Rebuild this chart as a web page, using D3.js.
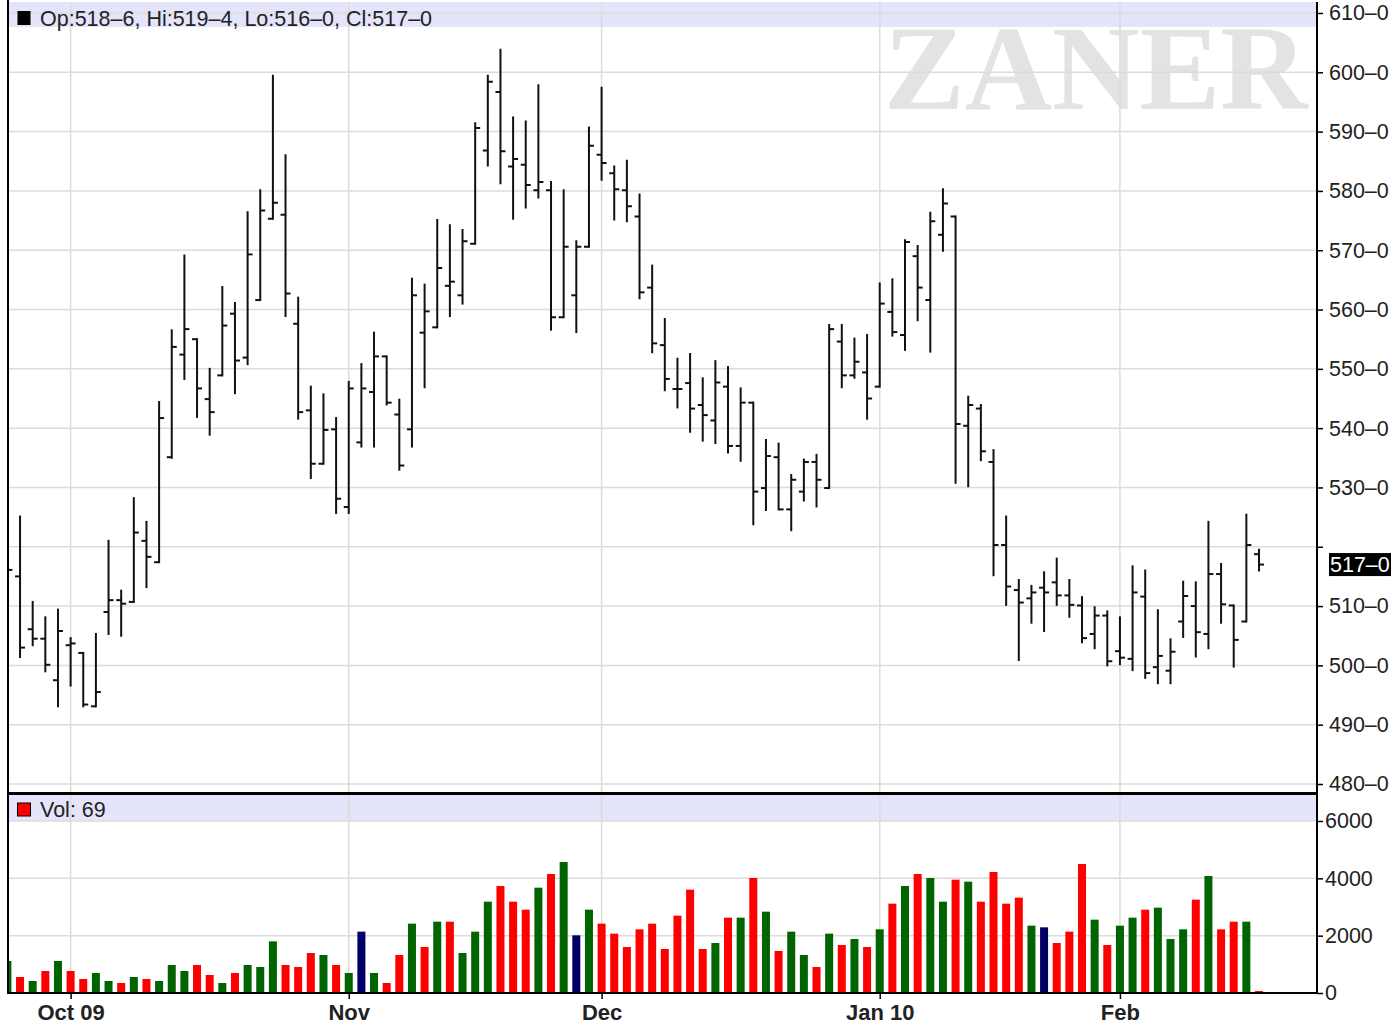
<!DOCTYPE html>
<html><head><meta charset="utf-8">
<script src="https://cdn.jsdelivr.net/npm/d3@7"></script>
<style>html,body{margin:0;padding:0;background:#fff;} svg{display:block;}</style>
</head><body><svg id="c" width="1394" height="1026"></svg>
<script>
// ---------------- DATA ----------------
const dates = [
"2009-09-24","2009-09-25","2009-09-28","2009-09-29","2009-09-30",
"2009-10-01","2009-10-02","2009-10-05","2009-10-06","2009-10-07","2009-10-08","2009-10-09",
"2009-10-12","2009-10-13","2009-10-14","2009-10-15","2009-10-16","2009-10-19","2009-10-20",
"2009-10-21","2009-10-22","2009-10-23","2009-10-26","2009-10-27","2009-10-28","2009-10-29","2009-10-30",
"2009-11-02","2009-11-03","2009-11-04","2009-11-05","2009-11-06","2009-11-09","2009-11-10",
"2009-11-11","2009-11-12","2009-11-13","2009-11-16","2009-11-17","2009-11-18","2009-11-19",
"2009-11-20","2009-11-23","2009-11-24","2009-11-25","2009-11-27","2009-11-30",
"2009-12-01","2009-12-02","2009-12-03","2009-12-04","2009-12-07","2009-12-08","2009-12-09",
"2009-12-10","2009-12-11","2009-12-14","2009-12-15","2009-12-16","2009-12-17","2009-12-18",
"2009-12-21","2009-12-22","2009-12-23","2009-12-24","2009-12-28","2009-12-29","2009-12-30","2009-12-31",
"2010-01-04","2010-01-05","2010-01-06","2010-01-07","2010-01-08","2010-01-11","2010-01-12",
"2010-01-13","2010-01-14","2010-01-15","2010-01-19","2010-01-20","2010-01-21","2010-01-22",
"2010-01-25","2010-01-26","2010-01-27","2010-01-28","2010-01-29",
"2010-02-01","2010-02-02","2010-02-03","2010-02-04","2010-02-05","2010-02-08","2010-02-09",
"2010-02-10","2010-02-11","2010-02-12","2010-02-16","2010-02-17"
];
const opens = [
517,515.0,506.1,504.5,497.5,503.4,502.1,493.1,509.0,511.0,
510.7,521.0,517.4,535.1,552.4,555.0,544.9,548.9,559.3,551.9,
561.6,575.3,576.0,557.6,543.0,534.0,539.8,526.7,537.6,546.1,
552.1,542.3,539.8,556.1,557.0,564.0,562.4,571.1,586.8,596.7,
584.1,584.4,580.1,580.1,558.7,562.4,570.6,586.1,583.0,580.1,
575.7,563.7,554.0,546.6,547.6,543.9,541.3,547.0,537.0,544.3,
529.9,535.1,526.3,529.3,534.3,529.9,554.6,548.9,549.4,547.0,
559.6,555.7,569.0,561.6,572.6,575.7,540.4,543.3,534.3,520.3,
512.7,511.3,513.1,514.0,511.8,510.1,505.3,508.4,502.4,501.1,
511.6,499.7,499.1,507.4,510.0,505.3,515.4,510.1,507.4,518.75
];
const highs = [
519,525.1,510.7,508.1,509.4,504.6,502.1,505.3,521.0,512.6,
528.2,524.2,544.4,556.5,569.1,555.0,550.0,563.8,561.1,576.4,
580.1,599.4,586.0,562.0,547.0,545.7,541.7,547.8,550.8,556.1,
552.1,544.8,565.2,564.2,575.1,574.2,573.4,591.4,599.4,603.8,
592.4,591.7,597.8,581.5,580.1,571.5,590.7,597.4,584.1,585.1,
579.4,567.4,558.4,551.7,552.5,548.4,551.3,550.3,546.7,544.3,
538.0,537.4,532.1,534.7,535.5,557.4,557.4,555.1,555.7,564.4,
565.1,571.7,570.7,576.3,580.3,575.7,545.3,543.9,536.3,525.1,
514.4,513.4,515.7,518.0,514.4,511.5,509.8,509.1,508.1,516.7,
516.0,509.3,504.4,514.1,514.0,524.2,517.1,510.1,525.4,519.5
];
const lows = [
513,501.4,503.4,499.0,493.1,496.6,493.1,493.1,505.3,505.0,
510.7,513.2,517.4,535.0,548.3,541.9,538.9,548.9,545.9,550.8,
561.6,575.3,558.9,541.6,531.6,534.0,525.7,525.7,536.9,536.9,
544.0,533.0,536.9,546.9,557.0,558.9,561.0,571.1,584.3,581.3,
575.3,577.2,578.9,556.6,558.7,556.2,570.6,581.9,575.2,574.9,
561.9,552.8,546.4,543.5,539.4,537.9,537.5,535.9,534.5,523.8,
526.2,526.3,522.8,527.8,526.8,529.9,546.9,548.5,541.6,547.0,
555.6,553.2,558.2,552.9,569.9,530.8,530.2,534.6,515.2,510.2,
500.9,507.2,505.8,510.2,508.2,503.9,502.9,500.0,500.2,499.2,
497.9,497.0,497.0,504.8,501.5,502.9,507.2,499.8,507.4,516.0
];
const closes = [
516.1,503.0,504.5,500.1,505.8,503.7,493.4,495.5,511.0,510.4,
522.4,518.3,541.7,553.7,556.7,546.7,542.7,557.3,551.4,569.3,
576.7,578.0,562.7,542.7,534.0,539.7,528.1,546.7,546.7,552.1,
544.3,533.7,562.4,559.7,567.0,564.7,571.5,590.6,598.4,586.7,
585.4,581.0,581.5,558.7,570.6,570.6,587.6,584.7,580.3,577.4,
562.9,554.3,548.3,546.6,543.3,542.2,547.7,537.0,544.3,529.3,
535.3,526.3,531.3,534.3,531.3,556.7,548.9,551.2,545.0,561.0,
556.2,571.4,563.7,574.9,577.9,540.7,543.9,536.1,520.3,513.3,
510.6,512.3,512.3,511.8,510.2,504.6,508.4,500.7,501.3,512.3,
498.7,501.6,502.3,511.7,505.6,515.4,510.3,504.3,520.3,517.0
];
const volumes = [
1116,558,419,767,1116,767,488,698,419,349,
558,488,419,977,767,977,628,349,698,977,
907,1802,977,907,1395,1326,977,698,2140,698,
349,1326,2419,1605,2488,2488,1395,2140,3186,3733,
3186,2907,3674,4151,4570,2012,2907,2419,2070,1605,
2221,2419,1535,2698,3605,1535,1744,2628,2628,4012,
2837,1465,2140,1326,907,2070,1674,1884,1605,2221,
3116,3733,4151,4012,3186,3953,3884,3186,4221,3116,
3326,2349,2291,1744,2140,4500,2558,1674,2349,2628,
2907,2977,1884,2221,3256,4081,2221,2488,2488,69
];
const priorClose = 514;   // close of the session before the first bar
const priceTicks = [480,490,500,510,520,530,540,550,560,570,580,590,600,610];
const volumeTicks = [0,2000,4000,6000];
const monthStarts = ["2009-10-01","2009-11-02","2009-12-01","2010-01-04","2010-02-01"];
const monthLabels = ["Oct 09","Nov","Dec","Jan 10","Feb"];

// ---------------- LAYOUT ----------------
const L = 8, R = 1317;
const priceTop = 2, sepY = 793.5, volBandTop = 795, volBandBottom = 821, volBottom = 993;
const FONT = "'Liberation Sans', Arial, sans-serif";

const svg = d3.select("#c");
const x = d3.scalePoint().domain(dates).range([7.4, 1259]);
const yP = d3.scaleLinear().domain([480, 610]).range([784, 13]);
const yV = d3.scaleLinear().domain([0, 6000]).range([volBottom, 821]);

const bars = dates.map((d, i) => ({
  date: d, o: opens[i], h: highs[i], l: lows[i], c: closes[i], v: volumes[i],
  prev: i === 0 ? priorClose : closes[i - 1]
}));

const defs = svg.append("defs");
defs.append("clipPath").attr("id", "clipP").append("rect")
  .attr("x", L + 1).attr("y", priceTop).attr("width", R - L - 1).attr("height", sepY - priceTop);
defs.append("clipPath").attr("id", "clipV").append("rect")
  .attr("x", L + 1).attr("y", volBandTop).attr("width", R - L - 1).attr("height", volBottom - volBandTop);

svg.append("rect").attr("width", 1394).attr("height", 1026).attr("fill", "#fff");

// watermark
svg.append("text").attr("x", 884).attr("y", 109)
  .attr("font-family", "'Liberation Serif', 'Times New Roman', serif")
  .attr("font-weight", "bold").attr("font-size", 121)
  .attr("fill", "#e3e3e3").text("ZANER");

// header bands
svg.append("rect").attr("x", L).attr("y", priceTop).attr("width", R - L).attr("height", 27 - priceTop).attr("fill", "#e4e4fb");
svg.append("rect").attr("x", L).attr("y", volBandTop).attr("width", R - L).attr("height", volBandBottom - volBandTop).attr("fill", "#e4e4fb");

// gridlines
const grid = svg.append("g").attr("stroke", "#dcdcdc").attr("stroke-width", 1.5);
grid.selectAll(".hp").data(priceTicks).join("line")
  .attr("x1", L).attr("x2", R).attr("y1", d => yP(d)).attr("y2", d => yP(d));
grid.selectAll(".hv").data(volumeTicks.filter(d => d > 0)).join("line")
  .attr("x1", L).attr("x2", R).attr("y1", d => yV(d)).attr("y2", d => yV(d));
grid.selectAll(".vm").data(monthStarts).join("line")
  .attr("x1", d => x(d)).attr("x2", d => x(d)).attr("y1", priceTop).attr("y2", volBottom);

// OHLC bars
const tick = 5;
const ohlc = svg.append("g").attr("clip-path", "url(#clipP)")
  .attr("stroke", "#111").attr("stroke-width", 2).attr("fill", "none");
const g = ohlc.selectAll("g").data(bars).join("g");
g.append("line").attr("x1", d => x(d.date)).attr("x2", d => x(d.date))
  .attr("y1", d => yP(d.h) - 1).attr("y2", d => yP(d.l) + 1);
g.append("line").attr("x1", d => x(d.date) - tick).attr("x2", d => x(d.date))
  .attr("y1", d => yP(d.o)).attr("y2", d => yP(d.o));
g.append("line").attr("x1", d => x(d.date)).attr("x2", d => x(d.date) + tick)
  .attr("y1", d => yP(d.c)).attr("y2", d => yP(d.c));

// volume bars
const colorOf = d => d.c > d.prev ? "#006400" : (d.c < d.prev ? "#ff0000" : "#000066");
svg.append("g").attr("clip-path", "url(#clipV)")
  .selectAll("rect").data(bars).join("rect")
  .attr("x", d => x(d.date) - 4).attr("width", 8)
  .attr("y", d => yV(d.v)).attr("height", d => yV(0) - yV(d.v))
  .attr("fill", colorOf);

// frame lines
const frame = svg.append("g").attr("stroke", "#000");
frame.append("line").attr("x1", L).attr("x2", L).attr("y1", 0).attr("y2", volBottom + 1).attr("stroke-width", 2);
frame.append("line").attr("x1", R).attr("x2", R).attr("y1", priceTop).attr("y2", volBottom + 1).attr("stroke-width", 2);
frame.append("line").attr("x1", L).attr("x2", R).attr("y1", sepY).attr("y2", sepY).attr("stroke-width", 3);
frame.append("line").attr("x1", L).attr("x2", R + 1).attr("y1", volBottom).attr("y2", volBottom).attr("stroke-width", 2);

// price axis
const fmtPrice = v => Math.floor(v) + "\u2013" + Math.round((v - Math.floor(v)) * 8);
const lastBar = bars[bars.length - 1];
const pAxis = svg.append("g").attr("transform", `translate(${R},0)`)
  .call(d3.axisRight(yP).tickValues(priceTicks).tickSize(6).tickPadding(6)
    .tickFormat(v => Math.abs(v - lastBar.c) < 6 ? "" : fmtPrice(v)));
pAxis.select(".domain").remove();
pAxis.selectAll("line").attr("stroke", "#000").attr("stroke-width", 1.5);
pAxis.selectAll("text").attr("font-family", FONT).attr("font-size", 21.5).attr("fill", "#222");

// volume axis
const vAxis = svg.append("g").attr("transform", `translate(${R},0)`)
  .call(d3.axisRight(yV).tickValues(volumeTicks).tickSize(6).tickPadding(2).tickFormat(d3.format("d")));
vAxis.select(".domain").remove();
vAxis.selectAll("line").attr("stroke", "#000").attr("stroke-width", 1.5);
vAxis.selectAll("text").attr("font-family", FONT).attr("font-size", 21.5).attr("fill", "#222");

// time axis
const tAxis = svg.append("g").attr("transform", `translate(0,${volBottom})`)
  .call(d3.axisBottom(x).tickValues(monthStarts).tickSize(6).tickPadding(5)
    .tickFormat((d, i) => monthLabels[i]));
tAxis.select(".domain").remove();
tAxis.selectAll("line").attr("stroke", "#000").attr("stroke-width", 1.5);
tAxis.selectAll("text").attr("font-family", FONT).attr("font-size", 22).attr("font-weight", "bold").attr("fill", "#222");

// last price marker
const ly = yP(lastBar.c);
svg.append("rect").attr("x", 1329).attr("y", ly - 11.5).attr("width", 62).attr("height", 23).attr("fill", "#000");
svg.append("text").attr("x", 1330).attr("y", ly).attr("dy", "0.35em")
  .attr("font-family", FONT).attr("font-size", 21.5).attr("fill", "#fff").text(fmtPrice(lastBar.c));

// header texts
svg.append("rect").attr("x", 17.5).attr("y", 11).attr("width", 13).attr("height", 14).attr("fill", "#000");
svg.append("text").attr("x", 40).attr("y", 26).attr("font-family", FONT).attr("font-size", 21.5).attr("fill", "#222")
  .text(`Op:${fmtPrice(lastBar.o)}, Hi:${fmtPrice(lastBar.h)}, Lo:${fmtPrice(lastBar.l)}, Cl:${fmtPrice(lastBar.c)}`);
svg.append("rect").attr("x", 17.5).attr("y", 803).attr("width", 13).attr("height", 13)
  .attr("fill", "#ff0000").attr("stroke", "#000").attr("stroke-width", 1);
svg.append("text").attr("x", 40).attr("y", 816.5).attr("font-family", FONT).attr("font-size", 21.5).attr("fill", "#222")
  .text(`Vol: ${lastBar.v}`);
</script>
</body></html>
